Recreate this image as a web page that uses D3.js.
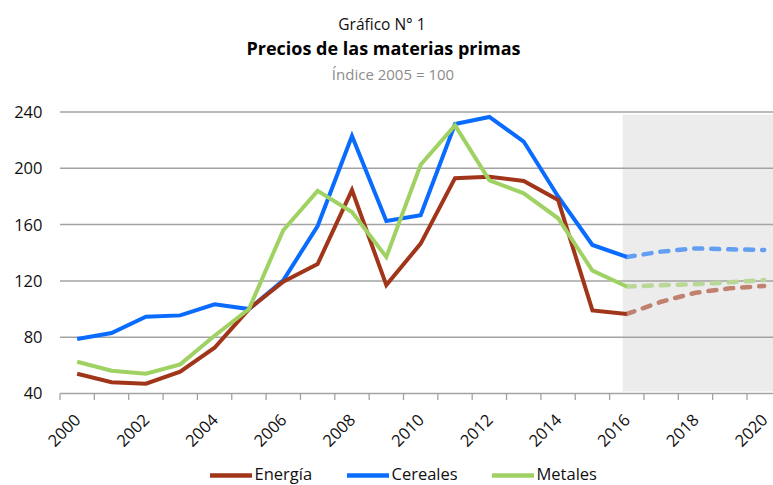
<!DOCTYPE html>
<html><head><meta charset="utf-8">
<script src="https://cdn.jsdelivr.net/npm/d3@7"></script>
<style>body{margin:0;background:#fff}svg{display:block}text{font-family:"Open Sans",sans-serif}</style>
</head><body><svg id="c" width="773" height="485"></svg>
<script>
const years = d3.range(2000, 2021);
const histYears = d3.range(2000, 2017);
const projYears = d3.range(2016, 2021);
const energia = [54, 48, 47, 55.5, 72.5, 100, 119.5, 132, 184.5, 117, 146.5, 193, 194, 191, 177.5, 99, 96.5];
const cereales = [78.7, 83, 94.6, 95.5, 103.4, 100, 120.4, 159, 223, 162.5, 166.6, 231.5, 236.5, 219, 180, 145.5, 137];
const metales = [62.6, 56.2, 54, 60.7, 81, 100, 156, 184, 169, 137, 202.5, 230.5, 191.5, 182.2, 164.5, 127.3, 116];
const energiaProy = [96.5, 105.2, 111.6, 114.7, 116.4];
const cerealesProy = [137, 140.8, 143.1, 142.4, 142];
const metalesProy = [116, 116.9, 117.6, 119, 120.6];
const yTicks = [40, 80, 120, 160, 200, 240];
const xLabelYears = d3.range(2000, 2021, 2);
const seriesNames = ["Energía", "Cereales", "Metales"];

const colors = {"Energía": "#a1351a", "Cereales": "#0a6cff", "Metales": "#9fd163"};
const projColors = {"Energía": "#c0826f", "Cereales": "#629ff2", "Metales": "#b9d897"};

const svg = d3.select("#c");
const left = 60, step = 34.35;
const x = d3.scaleBand().domain(years).range([left, left + step * years.length]).paddingInner(0).paddingOuter(0);
const y = d3.scaleLinear().domain([40, 240]).range([393.5, 112]);
const cx = d => x(d) + x.bandwidth() / 2;

// shaded projection area
svg.append("rect").attr("x", cx(2016) - 4).attr("y", y(240) + 2.5)
  .attr("width", 773 - (cx(2016) - 4)).attr("height", y(40) - y(240) - 4.5)
  .attr("fill", "#ececec");

// gridlines
svg.append("g").selectAll("line").data(yTicks.slice(1)).join("line")
  .attr("x1", left).attr("x2", 773).attr("y1", d => y(d)).attr("y2", d => y(d))
  .attr("stroke", "#a3a3a3").attr("stroke-width", 1.5);

// y labels
svg.append("g").selectAll("text").data(yTicks).join("text")
  .attr("x", 42.5).attr("y", d => y(d)).attr("dy", "0.36em").attr("text-anchor", "end")
  .attr("font-size", 16.5).attr("fill", "#111").text(d => d);

// x axis
svg.append("line").attr("x1", left).attr("x2", 773).attr("y1", y(40)).attr("y2", y(40))
  .attr("stroke", "#a3a3a3").attr("stroke-width", 1.5);
const tickPos = d3.range(0, years.length + 1).map(i => left + i * step);
svg.append("g").selectAll("line").data(tickPos).join("line")
  .attr("x1", d => d).attr("x2", d => d).attr("y1", y(40)).attr("y2", y(40) + 6.5)
  .attr("stroke", "#a3a3a3").attr("stroke-width", 1.3);
svg.append("g").selectAll("text").data(xLabelYears).join("text")
  .attr("transform", d => `translate(${cx(d) + 4.5},${421}) rotate(-45)`)
  .attr("text-anchor", "end").attr("font-size", 16.5).attr("fill", "#111").text(d => d);

// lines
const line = d3.line().x(d => cx(d[0])).y(d => y(d[1]));
const hist = {"Energía": energia, "Cereales": cereales, "Metales": metales};
const proj = {"Energía": energiaProy, "Cereales": cerealesProy, "Metales": metalesProy};
["Energía", "Metales", "Cereales"].forEach(name => {
  svg.append("path").datum(projYears.map((yr, i) => [yr, proj[name][i]]))
    .attr("d", line).attr("fill", "none").attr("stroke", projColors[name])
    .attr("stroke-width", 4.5).attr("stroke-linecap", "round").attr("stroke-dasharray", "8,9");
});
["Cereales", "Energía", "Metales"].forEach(name => {
  svg.append("path").datum(histYears.map((yr, i) => [yr, hist[name][i]]))
    .attr("d", line).attr("fill", "none").attr("stroke", colors[name])
    .attr("stroke-width", 4).attr("stroke-linejoin", "miter").attr("stroke-linecap", "butt");
});

// titles
svg.append("text").attr("x", 382).attr("y", 30).attr("text-anchor", "middle")
  .attr("font-size", 15.5).attr("fill", "#111").text("Gráfico N° 1");
svg.append("text").attr("x", 383.5).attr("y", 55).attr("text-anchor", "middle")
  .attr("font-size", 18).attr("font-weight", "bold").attr("fill", "#000").text("Precios de las materias primas");
svg.append("text").attr("x", 393).attr("y", 80).attr("text-anchor", "middle")
  .attr("font-size", 15).attr("fill", "#8c8c8c").text("Índice 2005 = 100");

// legend
const legX = [210, 347, 492];
const lg = svg.append("g").selectAll("g").data(seriesNames).join("g")
  .attr("transform", (d, i) => `translate(${legX[i]},475.5)`);
lg.append("line").attr("x1", 0).attr("x2", 42).attr("stroke", d => colors[d]).attr("stroke-width", 4.5);
lg.append("text").attr("x", 44.5).attr("y", 4.5).attr("font-size", 16.5).attr("fill", "#111").text(d => d);
</script></body></html>
